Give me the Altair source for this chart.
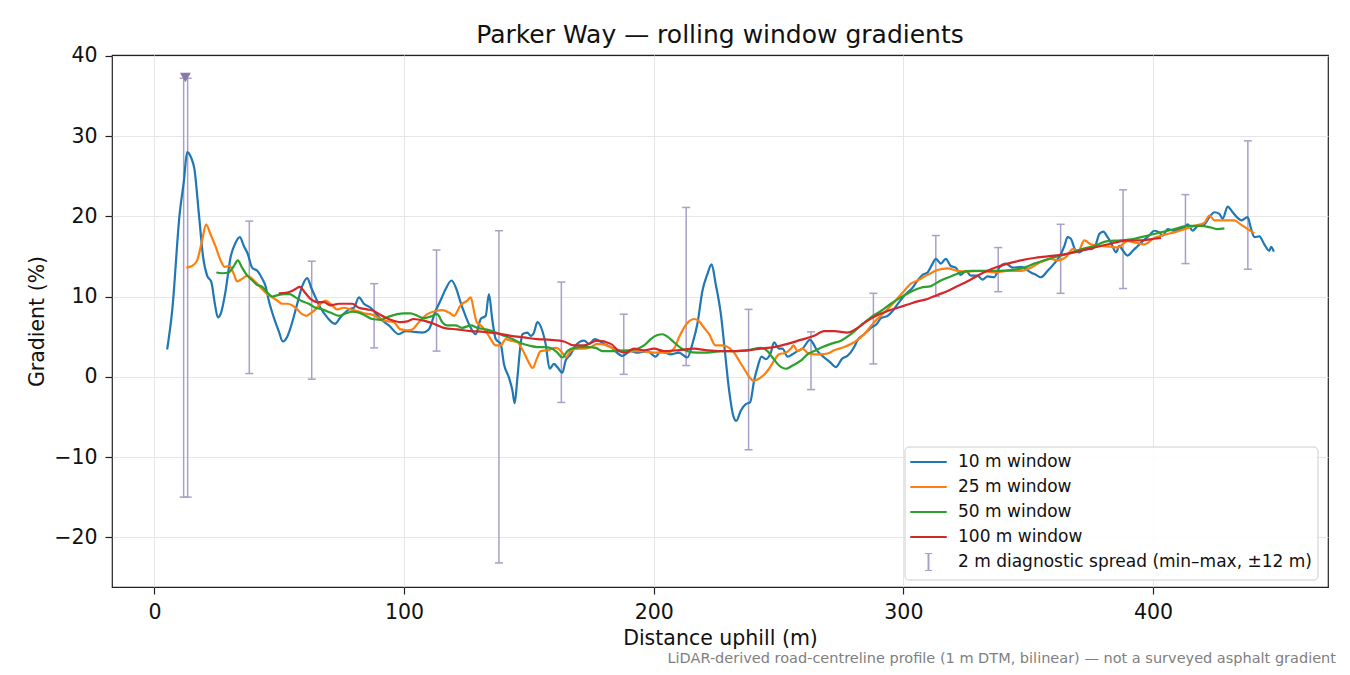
"""Parker Way rolling-window gradient profile, rebuilt with Altair."""

import altair as alt
import pandas as pd

FONT = "DejaVu Sans"
BLUE = "#1f77b4"
ORANGE = "#ff7f0e"
GREEN = "#2ca02c"
RED = "#d62728"
SPREAD = "#aa9fc7"
CLIP = "#8878ab"
GRID = "#e6e6e6"
INK = "#222222"

SERIES = ["10 m window", "25 m window", "50 m window", "100 m window"]
SPREAD_LABEL = "2 m diagnostic spread (min–max, ±12 m)"

# 10 m window
X10 = [5.1, 7.1, 10.1, 11.8, 13.1, 14.7, 16.0, 17.8, 19.5, 21.1, 22.8, 24.2, 25.4, 26.7,
       28.5, 30.5, 32.5, 34.2, 35.8, 37.4, 39.1, 41.2, 43.2, 44.5, 45.8, 47.8, 49.8, 51.4,
       53.2, 55.2, 57.2, 59.2, 61.2, 62.8, 64.5, 66.5, 69.2, 72.3, 74.5, 77.9, 79.9, 81.9,
       83.9, 86.6, 90.6, 93.9, 97.9, 100.6, 103.9, 107.3, 109.9, 112.6, 114.6, 116.6, 119.0,
       121.0, 122.4, 124.6, 126.7, 128.7, 130.7, 132.7, 134.0, 135.3, 136.7, 138.7, 140.0,
       142.0, 143.4, 144.3, 145.4, 146.7, 147.4, 149.4, 150.7, 152.0, 153.4, 155.4, 156.7,
       158.3, 160.0, 161.4, 163.4, 164.7, 166.7, 168.7, 172.1, 174.1, 176.4, 180.1, 182.8,
       187.5, 190.8, 193.5, 197.5, 200.8, 202.8, 206.8, 210.1, 213.5, 215.5, 217.5, 219.5,
       221.5, 223.2, 224.8, 226.9, 228.5, 230.2, 231.9, 233.1, 234.9, 236.9, 238.6, 240.2,
       241.6, 243.2, 244.9, 246.9, 248.2, 250.2, 251.6, 253.6, 255.6, 257.6, 259.6, 262.6,
       265.6, 268.3, 270.7, 272.9, 275.6, 277.6, 280.3, 281.7, 284.3, 287.0, 289.4, 291.0,
       293.7, 295.7, 298.3, 301.0, 303.7, 305.7, 307.7, 309.7, 311.7, 313.0, 315.0, 317.0,
       319.0, 321.0, 323.0, 325.1, 327.1, 329.7, 331.7, 333.7, 336.4, 338.4, 341.1, 343.8,
       347.1, 351.1, 353.1, 355.1, 357.8, 360.4, 363.1, 364.5, 365.8, 367.1, 368.7, 370.5,
       372.5, 375.1, 377.1, 378.5, 380.1, 381.8, 383.2, 385.2, 386.5, 387.8, 389.8, 391.9,
       393.9, 395.9, 398.5, 400.5, 402.5, 403.9, 405.9, 408.6, 410.6, 412.6, 413.9, 415.9,
       417.9, 420.6, 422.6, 424.6, 426.6, 427.9, 429.9, 431.9, 433.9, 435.5, 437.9, 439.3,
       440.6, 442.6, 444.6, 446.6, 447.3, 448.4]
G10 = [3.4, 8.2, 20.3, 24.4, 28.0, 27.3, 25.9, 20.3, 14.9, 12.6, 11.8, 9.1, 7.4, 8.0,
       10.7, 14.9, 16.7, 17.4, 16.3, 15.3, 13.6, 13.2, 12.2, 11.3, 9.5, 7.4, 5.7, 4.4,
       5.0, 6.8, 9.1, 11.3, 12.3, 11.1, 9.9, 8.6, 7.4, 6.6, 7.4, 8.4, 8.6, 9.9,
       9.1, 8.6, 7.2, 6.4, 5.3, 5.7, 5.6, 5.5, 5.9, 8.2, 9.5, 10.9, 12.0,
       10.9, 9.5, 7.6, 6.1, 5.3, 7.2, 7.6, 10.3, 7.2, 4.7, 4.1, 1.6,
       -0.1, -1.7, -3.3, -0.1, 4.1, 5.3, 5.5, 5.1, 5.5, 6.8, 5.7, 4.1,
       1.0, 1.6, 1.2, 0.5, 2.0, 2.8, 3.9, 4.5, 4.1, 4.7, 4.1, 3.7,
       2.6, 3.2, 3.0, 3.2, 2.5, 3.2, 2.8, 3.0, 2.4, 4.1, 6.6, 10.7,
       12.8, 14.0, 11.6, 7.8, 3.2, -1.7, -4.9, -5.5, -4.2, -3.4, -3.2, -0.5,
       1.2, 2.5, 2.2, 3.0, 4.3, 3.5, 3.5, 2.5, 2.8, 3.2, 3.5, 4.6,
       3.2, 2.4, 1.8, 1.2, 2.3, 2.6, 3.7, 4.6, 5.3, 6.1, 6.6, 7.3,
       7.6, 8.2, 9.3, 10.3, 11.1, 12.0, 12.7, 13.0, 14.1, 14.7, 14.1, 14.7,
       13.8, 13.6, 12.7, 13.2, 12.6, 12.6, 12.1, 12.5, 12.4, 13.6, 14.1, 13.6,
       13.7, 13.0, 12.7, 12.4, 13.2, 14.1, 15.3, 16.3, 17.4, 17.2, 15.9, 15.5,
       15.9, 15.9, 16.5, 17.8, 18.1, 17.4, 16.7, 15.5, 16.3, 15.8, 15.1, 15.7,
       16.3, 16.9, 17.6, 18.2, 18.0, 17.6, 18.4, 18.2, 18.4, 18.6, 19.0, 18.2,
       18.8, 19.0, 19.9, 20.5, 20.3, 19.7, 21.2, 20.5, 19.8, 19.5, 19.9, 18.4,
       17.4, 17.5, 16.5, 15.7, 16.2, 15.6]

# 25 m window
X25 = [12.8, 15.1, 17.1, 19.1, 20.7, 22.4, 24.4, 26.5, 28.1, 30.2, 31.8, 33.1, 35.1,
       37.2, 39.2, 41.2, 43.2, 45.2, 47.2, 49.2, 51.2, 53.2, 55.2, 57.2, 59.2, 60.9, 62.5,
       64.5, 66.5, 68.5, 70.5, 73.2, 75.9, 78.6, 81.2, 83.9, 86.6, 91.9, 95.9, 98.6, 101.3,
       103.3, 105.9, 109.3, 112.6, 115.3, 118.0, 120.0, 122.6, 125.3, 126.7, 128.0, 129.1,
       130.7, 132.7, 134.7, 136.7, 138.7, 140.7, 142.7, 145.4, 147.7, 149.6, 151.5, 153.1,
       154.7, 157.4, 160.7, 163.4, 164.7, 166.7, 169.4, 172.1, 174.7, 177.4, 180.1, 184.1,
       189.5, 194.8, 200.1, 205.5, 208.1, 210.1, 212.1, 214.1, 216.2, 218.2, 220.2, 222.2,
       224.8, 227.5, 230.2, 232.2, 234.2, 236.2, 238.2, 240.0, 241.8, 244.2, 246.2, 248.2,
       250.2, 252.9, 254.9, 256.0, 257.6, 259.6, 261.6, 264.3, 266.9, 269.6, 272.3, 276.3,
       280.3, 284.3, 288.3, 292.3, 296.3, 300.3, 303.0, 305.7, 309.7, 313.7, 317.7, 321.7,
       325.7, 331.1, 336.4, 341.8, 347.1, 351.1, 355.1, 359.1, 361.8, 365.1, 367.8, 370.1,
       372.5, 375.1, 379.1, 383.2, 385.8, 389.8, 393.2, 396.5, 400.5, 404.5, 408.6, 412.6,
       416.6, 420.6, 422.6, 424.6, 428.6, 432.6, 435.1, 437.9, 440.6]
G25 = [13.6, 13.8, 14.5, 17.0, 19.0, 17.8, 16.3, 14.5, 13.7, 13.8, 12.8, 11.9, 12.2,
       12.6, 12.2, 11.6, 10.9, 10.3, 9.9, 9.5, 9.1, 9.1, 8.9, 8.4, 7.8, 7.6, 7.9,
       8.4, 9.1, 9.5, 9.1, 8.4, 8.6, 8.4, 8.2, 7.9, 7.8, 7.0, 6.8, 5.9, 5.8,
       5.9, 6.8, 7.8, 8.2, 8.3, 8.0, 7.6, 8.9, 9.5, 9.9, 8.2, 6.8,
       6.4, 5.7, 4.7, 3.9, 3.9, 4.7, 4.5, 4.3, 3.2, 2.0, 1.1, 2.2,
       3.2, 3.3, 3.6, 3.0, 2.4, 3.2, 3.5, 3.5, 3.7, 4.1, 4.0, 3.5,
       3.2, 3.2, 3.0, 3.0, 3.5, 4.9, 6.1, 6.9, 7.2, 6.9, 6.1, 5.3,
       3.9, 3.9, 3.6, 3.0, 2.0, 1.0, 0.0, -0.5, -0.3, 0.25, 1.0, 2.0,
       2.8, 3.0, 3.5, 3.9, 3.2, 3.5, 3.0, 2.8, 2.8, 2.9, 3.3, 3.7,
       4.3, 5.3, 6.8, 8.0, 9.3, 10.7, 11.6, 12.0, 12.7, 13.3, 13.5, 13.2,
       13.1, 13.2, 13.0, 13.2, 13.2, 13.6, 14.3, 14.7, 14.5, 14.9, 15.9, 15.7,
       17.0, 16.5, 16.3, 16.2, 16.1, 16.9, 16.7, 16.5, 17.3, 17.7, 18.0, 18.4,
       18.8, 19.2, 20.1, 19.5, 19.5, 19.5, 19.0, 18.4, 17.9]

# 50 m window
X50 = [24.8, 27.1, 29.8, 31.8, 33.4, 35.1, 37.2, 39.2, 40.9, 43.2, 45.2, 47.2, 49.8,
       51.8, 54.2, 56.5, 59.2, 61.8, 64.5, 67.2, 70.5, 73.9, 76.6, 79.2, 81.9, 84.6, 87.2,
       90.6, 93.9, 97.3, 99.9, 102.6, 105.3, 107.9, 110.6, 113.3, 115.3, 117.3, 120.6,
       123.3, 126.7, 129.4, 132.7, 136.0, 140.0, 143.4, 146.7, 150.0, 153.4, 156.7, 159.4,
       161.4, 163.4, 165.4, 168.1, 170.7, 174.1, 176.8, 179.4, 184.1, 189.5, 193.5, 196.1,
       198.8, 201.5, 203.5, 205.5, 208.1, 210.8, 213.5, 217.5, 221.5, 226.9, 232.2, 237.6,
       242.9, 245.6, 247.6, 250.2, 252.9, 255.6, 258.9, 261.6, 264.3, 267.6, 270.9, 275.0,
       279.0, 283.0, 287.0, 291.0, 295.0, 299.0, 303.0, 307.0, 311.0, 315.0, 319.0, 323.0,
       327.1, 332.4, 337.8, 343.1, 348.4, 352.4, 356.4, 360.4, 365.8, 371.1, 376.5, 381.8,
       387.2, 392.5, 397.9, 403.2, 408.6, 413.9, 419.2, 423.2, 425.9, 428.6]
G50 = [13.0, 12.9, 13.0, 13.8, 14.5, 13.6, 12.6, 12.0, 11.5, 11.2, 10.5, 10.0, 10.2,
       10.3, 10.3, 9.9, 9.4, 9.1, 8.6, 8.4, 8.0, 7.6, 7.9, 8.1, 8.0, 7.6, 7.2,
       7.1, 7.5, 7.8, 7.9, 7.9, 7.6, 7.3, 7.5, 7.8, 6.8, 6.4, 6.4,
       6.1, 6.4, 6.1, 5.9, 5.6, 5.1, 4.7, 4.2, 3.9, 3.7, 3.7, 3.5,
       3.0, 2.4, 3.2, 3.6, 3.7, 3.7, 3.6, 3.2, 3.2, 3.3, 3.5, 3.9,
       4.7, 5.2, 5.3, 5.0, 4.3, 3.6, 3.2, 3.0, 3.0, 3.2, 3.2, 3.3,
       3.6, 3.2, 2.4, 1.4, 1.0, 1.4, 2.0, 2.8, 3.2, 3.7, 4.1, 4.5,
       5.3, 6.4, 7.4, 8.2, 9.1, 9.9, 10.6, 11.1, 11.3, 12.0, 12.5, 13.0,
       13.2, 13.2, 13.2, 13.3, 13.6, 14.1, 14.5, 14.9, 15.3, 15.9, 16.3, 16.9,
       17.0, 17.2, 17.6, 18.0, 18.4, 18.8, 18.8, 18.6, 18.4, 18.5]

# 100 m window
X100 = [49.8, 53.2, 55.8, 58.2, 60.5, 62.5, 65.2, 67.9, 70.5, 73.9, 77.2, 79.2, 81.9,
        85.2, 87.9, 90.6, 94.6, 98.6, 101.3, 103.9, 107.9, 111.9, 115.9, 121.3, 126.7,
        132.0, 137.4, 142.7, 148.0, 153.4, 158.7, 164.0, 168.1, 172.1, 177.4, 182.8, 186.1,
        188.8, 192.1, 196.1, 200.1, 204.1, 209.5, 216.2, 221.5, 226.9, 232.2, 237.6, 242.9,
        248.2, 253.6, 258.9, 264.3, 268.3, 272.3, 277.6, 281.7, 285.7, 289.7, 293.7, 297.7,
        301.7, 305.7, 309.7, 313.7, 317.7, 321.7, 325.7, 329.7, 333.7, 337.8, 341.8, 347.1,
        352.4, 357.8, 363.1, 368.5, 373.8, 379.1, 384.5, 389.8, 395.2, 400.5, 403.2]
G100 = [10.4, 10.5, 10.8, 11.2, 10.4, 9.7, 9.3, 9.3, 8.9, 9.1, 9.1, 9.1, 8.6,
        8.4, 8.2, 7.7, 7.1, 6.8, 6.9, 7.2, 7.0, 6.6, 6.1, 5.9, 5.7,
        5.6, 5.4, 5.1, 4.9, 4.7, 4.6, 4.4, 3.9, 3.9, 4.5, 4.1, 3.2,
        3.0, 3.5, 3.3, 3.5, 3.2, 3.3, 3.5, 3.3, 3.2, 3.2, 3.3, 3.5,
        3.7, 4.1, 4.6, 5.1, 5.7, 5.7, 5.5, 6.1, 7.0, 7.7, 8.2, 8.6,
        9.0, 9.4, 9.7, 10.2, 10.7, 11.3, 11.9, 12.6, 13.2, 13.7, 14.1, 14.5,
        14.8, 15.0, 15.2, 15.5, 15.9, 16.3, 16.7, 17.0, 17.0, 17.2, 17.3]

# 2 m diagnostic spread (min-max over +-12 m)
SPREAD_X = [11.7, 13.3, 38, 63, 88, 113, 138, 163, 188, 213, 238, 263, 288, 313, 338,
            363, 388, 413, 438]
SPREAD_LO = [-15.0, -15.0, 0.4, -0.3, 3.6, 3.2, -23.2, -3.2, 0.3, 1.4, -9.1, -1.6, 1.6,
             10.0, 10.6, 10.4, 11.0, 14.1, 13.4]
SPREAD_HI = [37.2, 37.2, 19.4, 14.4, 11.6, 15.8, 18.2, 11.8, 7.8, 21.1, 8.4, 5.6, 10.4,
             17.6, 16.1, 19.0, 23.3, 22.7, 29.4]

# clipped-value marker
CLIP_X = [12.4]
CLIP_Y = [37.3]

NOTE = "LiDAR-derived road-centreline profile (1 m DTM, bilinear) — not a surveyed asphalt gradient"

W, H = 1216, 532
# legend frame, in plot pixels
LEG_X, LEG_Y, LEG_W, LEG_H = 793, 392, 413, 133

lines_df = pd.concat([
    pd.DataFrame({"dist": X10, "grad": G10, "series": SERIES[0], "order": 0}),
    pd.DataFrame({"dist": X25, "grad": G25, "series": SERIES[1], "order": 1}),
    pd.DataFrame({"dist": X50, "grad": G50, "series": SERIES[2], "order": 2}),
    pd.DataFrame({"dist": X100, "grad": G100, "series": SERIES[3], "order": 3}),
])
spread_df = pd.DataFrame({"dist": SPREAD_X, "lo": SPREAD_LO, "hi": SPREAD_HI,
                          "kind": SPREAD_LABEL})
clip_df = pd.DataFrame({"dist": CLIP_X, "grad": CLIP_Y})

x_scale = alt.Scale(domain=[-17.0, 470.1], nice=False, zero=False)
y_scale = alt.Scale(domain=[-26.2, 40.1], nice=False, zero=False)

legend_common = dict(
    title=None, orient="none", padding=0,
    labelFont=FONT, labelFontSize=17, labelColor="#111111", labelOffset=10, labelLimit=0,
    symbolSize=1330, symbolStrokeWidth=2, clipHeight=18, rowPadding=7,
    legendX=LEG_X + 4,
)
color = alt.Color(
    "series:N",
    scale=alt.Scale(domain=SERIES, range=[BLUE, ORANGE, GREEN, RED]),
    legend=alt.Legend(symbolType="stroke", legendY=LEG_Y + 6, **legend_common),
)
dash = alt.StrokeDash(
    "kind:N",
    scale=alt.Scale(domain=[SPREAD_LABEL], range=[[1, 0]]),
    legend=alt.Legend(symbolType="M0,-0.5L0,0.5M-0.2,-0.5L0.2,-0.5M-0.2,0.5L0.2,0.5",
                      symbolStrokeColor=SPREAD, symbolFillColor="transparent",
                      legendY=LEG_Y + 106, **legend_common),
)

x_enc = alt.X("dist:Q", scale=x_scale, title="Distance uphill (m)",
              axis=alt.Axis(values=[0, 100, 200, 300, 400], titlePadding=6))
y_axis = alt.Axis(values=[-20, -10, 0, 10, 20, 30, 40], titlePadding=6,
                  labelExpr="datum.value < 0 ? '−' + format(-datum.value, 'd') : format(datum.value, 'd')")

stems = alt.Chart(spread_df).mark_rule(strokeWidth=1.5, color=SPREAD).encode(
    x=x_enc,
    y=alt.Y("lo:Q", scale=y_scale, title="Gradient (%)", axis=y_axis),
    y2="hi:Q",
    strokeDash=dash,
)
caps_lo = alt.Chart(spread_df).mark_rule(strokeWidth=1.5, color=SPREAD, xOffset=-4, x2Offset=4).encode(
    x="dist:Q", x2="dist:Q", y="lo:Q",
)
caps_hi = alt.Chart(spread_df).mark_rule(strokeWidth=1.5, color=SPREAD, xOffset=-4, x2Offset=4).encode(
    x="dist:Q", x2="dist:Q", y="hi:Q",
)
lines = alt.Chart(lines_df).mark_line(strokeWidth=2.2, interpolate="monotone").encode(
    x="dist:Q",
    y="grad:Q",
    color=color,
    detail="order:O",
    order="dist:Q",
)
clip = alt.Chart(clip_df).mark_point(shape="triangle-down", filled=True, size=120,
                                      color=CLIP, opacity=1).encode(x="dist:Q", y="grad:Q")
frame = alt.Chart(pd.DataFrame({"box": [0]})).mark_rect(
    fill="white", fillOpacity=0.85, stroke="#cccccc", strokeWidth=1, cornerRadius=4,
).encode(x=alt.value(LEG_X), x2=alt.value(LEG_X + LEG_W),
         y=alt.value(LEG_Y), y2=alt.value(LEG_Y + LEG_H))
note = alt.Chart(pd.DataFrame({"note": [NOTE]})).mark_text(
    align="right", baseline="alphabetic", font=FONT, fontSize=14.5, color="#808080",
).encode(text="note:N", x=alt.value(W + 8), y=alt.value(H + 76))

chart = (
    alt.layer(stems, caps_lo, caps_hi, lines, clip, frame, note)
    .resolve_legend(color="independent", strokeDash="independent")
    .properties(
        width=W, height=H,
        autosize=alt.AutoSizeParams(type="none"),
        padding={"left": 104, "top": 47, "right": 14, "bottom": 80},
        title=alt.Title("Parker Way — rolling window gradients", font=FONT, fontSize=25,
                        fontWeight="normal", color="#111111", offset=-2),
    )
    .configure(background="white")
    .configure_axis(labelFont=FONT, titleFont=FONT, labelFontSize=20.5, titleFontSize=20.5,
                    titleFontWeight="normal", labelColor="#111111", titleColor="#111111",
                    gridColor=GRID, gridWidth=1, domain=False, tickColor=INK, tickSize=7,
                    tickWidth=1.2, labelPadding=8)
    .configure_view(stroke=INK, strokeWidth=1.2)
)

chart.save("out.html", embed_options={"renderer": "svg", "actions": False})
